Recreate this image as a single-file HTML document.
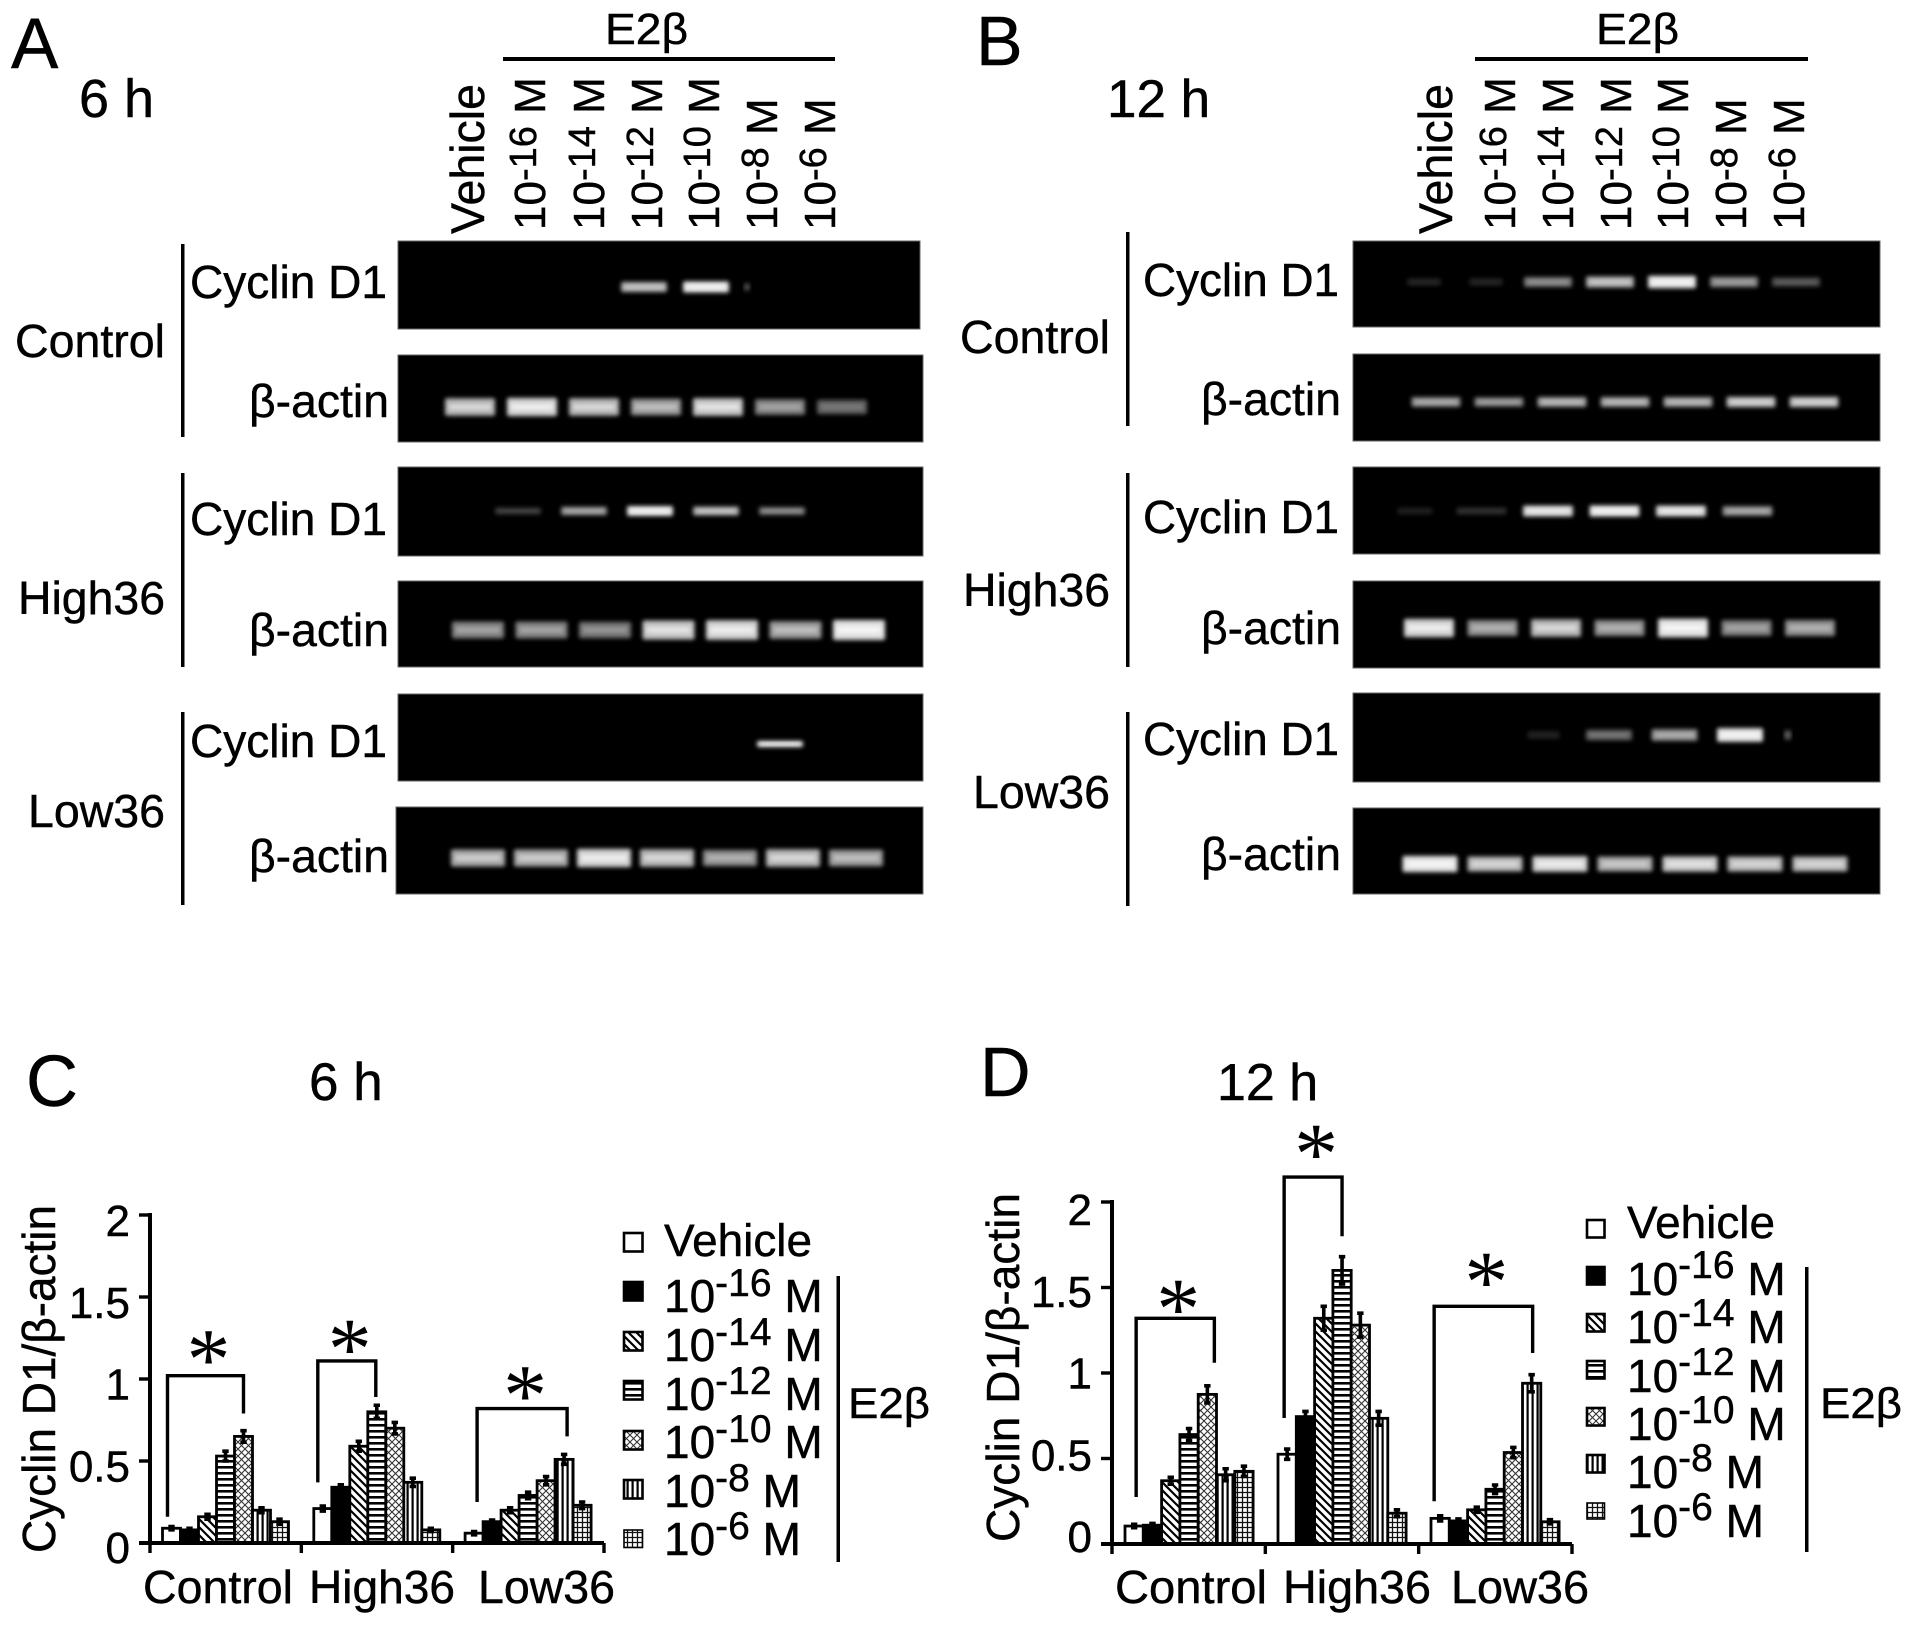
<!DOCTYPE html>
<html lang="en">
<head>
<meta charset="utf-8">
<title>Cyclin D1 expression after E2β treatment</title>
<style>
html,body{margin:0;padding:0;background:#fff}
svg{display:block}
text{font-family:"Liberation Sans","DejaVu Sans",sans-serif;fill:#000;stroke:#000;stroke-width:.45px}
.star{font-family:"Liberation Serif","DejaVu Serif",serif;stroke:none}
</style>
</head>
<body>
<svg id="figure" xmlns="http://www.w3.org/2000/svg" width="1913" height="1626" viewBox="0 0 1913 1626">
<defs>
<filter id="bandBlur" x="-20%" y="-80%" width="140%" height="260%"><feGaussianBlur stdDeviation="2"/></filter>
<pattern id="pat-diag" patternUnits="userSpaceOnUse" width="8" height="8"><rect width="8" height="8" fill="#fff"/><path d="M-2,-2L10,10M-2,6L2,10M6,-2L10,2" stroke="#000" stroke-width="2.2"/></pattern>
<pattern id="pat-horiz" patternUnits="userSpaceOnUse" width="6" height="6"><rect width="6" height="6" fill="#fff"/><rect y="2" width="6" height="2.6" fill="#000"/></pattern>
<pattern id="pat-vert" patternUnits="userSpaceOnUse" width="5" height="5"><rect width="5" height="5" fill="#fff"/><rect x="1.5" width="2.2" height="5" fill="#000"/></pattern>
<pattern id="pat-cross" patternUnits="userSpaceOnUse" width="7" height="7"><rect width="7" height="7" fill="#fff"/><path d="M-1,-1L8,8M-1,8L8,-1" stroke="#333" stroke-width="1.1"/></pattern>
<pattern id="pat-grid" patternUnits="userSpaceOnUse" width="5" height="5"><rect width="5" height="5" fill="#fff"/><path d="M2.5,0V5M0,2.5H5" stroke="#111" stroke-width="1.3"/></pattern>
</defs>

<!-- Panel A -->
<g>
<text x="11" y="68" font-size="71">A</text>
<text x="79" y="117" font-size="54">6 h</text>
<text x="605" y="44" font-size="44" textLength="83" lengthAdjust="spacingAndGlyphs">E2β</text>
<rect x="503" y="57" width="332" height="4"/>
<text transform="translate(484,234) rotate(-90)" font-size="47" textLength="150" lengthAdjust="spacingAndGlyphs">Vehicle</text>
<text transform="translate(545,230) rotate(-90)" font-size="44">10<tspan dy="-9" font-size="38">-16</tspan><tspan dy="9"> M</tspan></text>
<text transform="translate(604,230) rotate(-90)" font-size="44">10<tspan dy="-9" font-size="38">-14</tspan><tspan dy="9"> M</tspan></text>
<text transform="translate(662,230) rotate(-90)" font-size="44">10<tspan dy="-9" font-size="38">-12</tspan><tspan dy="9"> M</tspan></text>
<text transform="translate(719,230) rotate(-90)" font-size="44">10<tspan dy="-9" font-size="38">-10</tspan><tspan dy="9"> M</tspan></text>
<text transform="translate(777,230) rotate(-90)" font-size="44">10<tspan dy="-9" font-size="38">-8</tspan><tspan dy="9"> M</tspan></text>
<text transform="translate(835,230) rotate(-90)" font-size="44">10<tspan dy="-9" font-size="38">-6</tspan><tspan dy="9"> M</tspan></text>
<rect x="181" y="244" width="3.5" height="193"/>
<rect x="181" y="473" width="3.5" height="194"/>
<rect x="181" y="712" width="3.5" height="193"/>
<text x="15" y="357" font-size="46" textLength="150" lengthAdjust="spacingAndGlyphs">Control</text>
<text x="18" y="614" font-size="46" textLength="147" lengthAdjust="spacingAndGlyphs">High36</text>
<text x="28" y="827" font-size="46" textLength="137" lengthAdjust="spacingAndGlyphs">Low36</text>
<text x="190" y="298" font-size="46" textLength="197" lengthAdjust="spacingAndGlyphs">Cyclin D1</text>
<text x="249" y="417" font-size="46" textLength="140" lengthAdjust="spacingAndGlyphs">β-actin</text>
<text x="190" y="535" font-size="46" textLength="197" lengthAdjust="spacingAndGlyphs">Cyclin D1</text>
<text x="249" y="646" font-size="46" textLength="140" lengthAdjust="spacingAndGlyphs">β-actin</text>
<text x="190" y="757" font-size="46" textLength="197" lengthAdjust="spacingAndGlyphs">Cyclin D1</text>
<text x="249" y="872" font-size="46" textLength="140" lengthAdjust="spacingAndGlyphs">β-actin</text>
</g>

<!-- Panel B -->
<g>
<text x="976" y="65" font-size="70">B</text>
<text x="1107" y="117" font-size="53">12 h</text>
<text x="1596" y="44" font-size="44" textLength="83" lengthAdjust="spacingAndGlyphs">E2β</text>
<rect x="1475" y="57" width="333" height="4"/>
<text transform="translate(1452,234) rotate(-90)" font-size="47" textLength="150" lengthAdjust="spacingAndGlyphs">Vehicle</text>
<text transform="translate(1515,230) rotate(-90)" font-size="44">10<tspan dy="-9" font-size="38">-16</tspan><tspan dy="9"> M</tspan></text>
<text transform="translate(1573,230) rotate(-90)" font-size="44">10<tspan dy="-9" font-size="38">-14</tspan><tspan dy="9"> M</tspan></text>
<text transform="translate(1631,230) rotate(-90)" font-size="44">10<tspan dy="-9" font-size="38">-12</tspan><tspan dy="9"> M</tspan></text>
<text transform="translate(1688,230) rotate(-90)" font-size="44">10<tspan dy="-9" font-size="38">-10</tspan><tspan dy="9"> M</tspan></text>
<text transform="translate(1746,230) rotate(-90)" font-size="44">10<tspan dy="-9" font-size="38">-8</tspan><tspan dy="9"> M</tspan></text>
<text transform="translate(1804,230) rotate(-90)" font-size="44">10<tspan dy="-9" font-size="38">-6</tspan><tspan dy="9"> M</tspan></text>
<rect x="1126" y="232" width="3.5" height="194"/>
<rect x="1126" y="473" width="3.5" height="194"/>
<rect x="1126" y="712" width="3.5" height="194"/>
<text x="960" y="353" font-size="46" textLength="150" lengthAdjust="spacingAndGlyphs">Control</text>
<text x="963" y="606" font-size="46" textLength="147" lengthAdjust="spacingAndGlyphs">High36</text>
<text x="973" y="808" font-size="46" textLength="137" lengthAdjust="spacingAndGlyphs">Low36</text>
<text x="1143" y="296" font-size="46" textLength="196" lengthAdjust="spacingAndGlyphs">Cyclin D1</text>
<text x="1201" y="415" font-size="46" textLength="140" lengthAdjust="spacingAndGlyphs">β-actin</text>
<text x="1143" y="533" font-size="46" textLength="196" lengthAdjust="spacingAndGlyphs">Cyclin D1</text>
<text x="1201" y="644" font-size="46" textLength="140" lengthAdjust="spacingAndGlyphs">β-actin</text>
<text x="1143" y="755" font-size="46" textLength="196" lengthAdjust="spacingAndGlyphs">Cyclin D1</text>
<text x="1201" y="870" font-size="46" textLength="140" lengthAdjust="spacingAndGlyphs">β-actin</text>
</g>

<!-- Panel C headings and legend -->
<g>
<text x="26" y="1106" font-size="72">C</text>
<text x="309" y="1100" font-size="53">6 h</text>
<text transform="translate(55,1553) rotate(-90)" font-size="46" textLength="348" lengthAdjust="spacingAndGlyphs">Cyclin D1/β-actin</text>
<g>
<rect x="624" y="1233" width="18.5" height="18.5" fill="#fff" stroke="#000" stroke-width="2.6"/>
<rect x="624" y="1282" width="18.5" height="18.5" fill="#000" stroke="#000" stroke-width="2.6"/>
<rect x="624" y="1332" width="18.5" height="18.5" fill="url(#pat-diag)" stroke="#000" stroke-width="2.6"/>
<rect x="624" y="1381" width="18.5" height="18.5" fill="url(#pat-horiz)" stroke="#000" stroke-width="2.6"/>
<rect x="624" y="1431" width="18.5" height="18.5" fill="url(#pat-cross)" stroke="#000" stroke-width="2.6"/>
<rect x="624" y="1480" width="18.5" height="18.5" fill="url(#pat-vert)" stroke="#000" stroke-width="2.6"/>
<rect x="624" y="1530" width="18.5" height="17.5" fill="url(#pat-grid)" stroke="#000" stroke-width="1.6"/>
<text x="664" y="1256" font-size="45" textLength="148" lengthAdjust="spacingAndGlyphs">Vehicle</text>
<text x="664" y="1312" font-size="46">10<tspan dy="-16" font-size="39">-16</tspan><tspan dy="16"> M</tspan></text>
<text x="664" y="1361" font-size="46">10<tspan dy="-16" font-size="39">-14</tspan><tspan dy="16"> M</tspan></text>
<text x="664" y="1410" font-size="46">10<tspan dy="-16" font-size="39">-12</tspan><tspan dy="16"> M</tspan></text>
<text x="664" y="1458" font-size="46">10<tspan dy="-16" font-size="39">-10</tspan><tspan dy="16"> M</tspan></text>
<text x="664" y="1507" font-size="46">10<tspan dy="-16" font-size="39">-8</tspan><tspan dy="16"> M</tspan></text>
<text x="664" y="1555" font-size="46">10<tspan dy="-16" font-size="39">-6</tspan><tspan dy="16"> M</tspan></text>
<rect x="836.5" y="1276" width="3.5" height="286"/>
<text x="848" y="1418" font-size="43" textLength="82" lengthAdjust="spacingAndGlyphs">E2β</text>
</g>
</g>

<!-- Panel D headings and legend -->
<g>
<text x="980" y="1096" font-size="70">D</text>
<text x="1217" y="1100" font-size="52">12 h</text>
<text transform="translate(1019,1542) rotate(-90)" font-size="46" textLength="349" lengthAdjust="spacingAndGlyphs">Cyclin D1/β-actin</text>
<g>
<rect x="1587" y="1220" width="17.5" height="17.5" fill="#fff" stroke="#000" stroke-width="2.6"/>
<rect x="1587" y="1267" width="17.5" height="17.5" fill="#000" stroke="#000" stroke-width="2.6"/>
<rect x="1587" y="1314" width="17.5" height="17.5" fill="url(#pat-diag)" stroke="#000" stroke-width="2.6"/>
<rect x="1587" y="1361" width="17.5" height="17.5" fill="url(#pat-horiz)" stroke="#000" stroke-width="2.6"/>
<rect x="1587" y="1408" width="17.5" height="17.5" fill="url(#pat-cross)" stroke="#000" stroke-width="2.6"/>
<rect x="1587" y="1455" width="17.5" height="17.5" fill="url(#pat-vert)" stroke="#000" stroke-width="2.6"/>
<rect x="1587" y="1503" width="17.5" height="16" fill="url(#pat-grid)" stroke="#000" stroke-width="1.6"/>
<text x="1627" y="1238" font-size="45" textLength="148" lengthAdjust="spacingAndGlyphs">Vehicle</text>
<text x="1627" y="1295" font-size="46">10<tspan dy="-17" font-size="39">-16</tspan><tspan dy="17"> M</tspan></text>
<text x="1627" y="1343" font-size="46">10<tspan dy="-17" font-size="39">-14</tspan><tspan dy="17"> M</tspan></text>
<text x="1627" y="1392" font-size="46">10<tspan dy="-17" font-size="39">-12</tspan><tspan dy="17"> M</tspan></text>
<text x="1627" y="1440" font-size="46">10<tspan dy="-17" font-size="39">-10</tspan><tspan dy="17"> M</tspan></text>
<text x="1627" y="1488" font-size="46">10<tspan dy="-17" font-size="39">-8</tspan><tspan dy="17"> M</tspan></text>
<text x="1627" y="1537" font-size="46">10<tspan dy="-17" font-size="39">-6</tspan><tspan dy="17"> M</tspan></text>
<rect x="1805" y="1267" width="3.5" height="285"/>
<text x="1820" y="1418" font-size="43" textLength="82" lengthAdjust="spacingAndGlyphs">E2β</text>
</g>
</g>
</svg>

<script>
// ---- Shared chart categories ----
const groupNames = ["Control", "High36", "Low36"];
const doseNames = ["vehicle", "1e-16", "1e-14", "1e-12", "1e-10", "1e-8", "1e-6"];
const doseFills = ["#fff", "#000", "url(#pat-diag)", "url(#pat-horiz)", "url(#pat-cross)", "url(#pat-vert)", "url(#pat-grid)"];
const yTicks = [0, 0.5, 1, 1.5, 2];
const yTickLabels = ["0", "0.5", "1", "1.5", "2"];

// ---- Panel C (6 h) values ----
const sixHourControl = [0.09, 0.08, 0.16, 0.53, 0.65, 0.20, 0.13];
const sixHourHigh36 = [0.21, 0.34, 0.59, 0.80, 0.70, 0.37, 0.08];
const sixHourLow36 = [0.06, 0.13, 0.20, 0.29, 0.38, 0.51, 0.23];
const sixHourControlErr = [0.01, 0.01, 0.015, 0.03, 0.035, 0.015, 0.015];
const sixHourHigh36Err = [0.015, 0.015, 0.03, 0.04, 0.035, 0.025, 0.01];
const sixHourLow36Err = [0.01, 0.01, 0.015, 0.02, 0.025, 0.03, 0.02];

// ---- Panel D (12 h) values ----
const twelveHourControl = [0.105, 0.11, 0.37, 0.64, 0.875, 0.405, 0.425];
const twelveHourHigh36 = [0.525, 0.745, 1.32, 1.60, 1.28, 0.735, 0.18];
const twelveHourLow36 = [0.15, 0.135, 0.20, 0.32, 0.535, 0.94, 0.13];
const twelveHourControlErr = [0.01, 0.01, 0.02, 0.035, 0.05, 0.035, 0.03];
const twelveHourHigh36Err = [0.03, 0.03, 0.07, 0.08, 0.07, 0.04, 0.02];
const twelveHourLow36Err = [0.015, 0.012, 0.015, 0.025, 0.03, 0.05, 0.012];

// ---- Significance brackets, in y-axis units ----
const sixHourBracketTop = [1.02, 1.11, 0.82];
const sixHourBracketLeftEnd = [0.16, 0.37, 0.25];
const sixHourBracketRightEnd = [0.79, 0.89, 0.65];
const sixHourBracketDose = [4, 3, 5];
const twelveHourBracketTop = [1.32, 2.146, 1.39];
const twelveHourBracketLeftEnd = [0.275, 0.737, 0.25];
const twelveHourBracketRightEnd = [1.06, 1.80, 1.117];
const twelveHourBracketDose = [4, 3, 5];

// ---- Gel band intensities (0-1) per lane ----
const gelA1 = [0, 0, 0, 0.8, 1, 0, 0];
const gelA2 = [0.85, 0.95, 0.85, 0.75, 0.9, 0.65, 0.5];
const gelA3 = [0, 0.3, 0.7, 1, 0.8, 0.6, 0];
const gelA4 = [0.65, 0.65, 0.6, 0.9, 0.95, 0.75, 1];
const gelA5 = [0, 0, 0, 0, 0, 1, 0];
const gelA6 = [0.8, 0.8, 0.95, 0.85, 0.7, 0.85, 0.75];
const gelB1 = [0.12, 0.12, 0.6, 0.8, 1, 0.65, 0.4];
const gelB2 = [0.7, 0.65, 0.75, 0.75, 0.75, 0.85, 0.85];
const gelB3 = [0.1, 0.2, 0.95, 1, 0.95, 0.7, 0];
const gelB4 = [0.95, 0.7, 0.85, 0.7, 1, 0.65, 0.7];
const gelB5 = [0, 0.1, 0.5, 0.7, 1, 0, 0];
const gelB6 = [1, 0.85, 0.95, 0.8, 0.9, 0.85, 0.85];

const SVG_NS = "http://www.w3.org/2000/svg";
const root = document.getElementById("figure");

function make(parent, tag, attrs) {
  const el = document.createElementNS(SVG_NS, tag);
  for (const k in attrs) el.setAttribute(k, attrs[k]);
  parent.appendChild(el);
  return el;
}

function drawBlot(name, box, lane, values, speck) {
  const g = make(root, "g", {});
  
  
  const bg = make(g, "rect", {x: box.x, y: box.y, width: box.w, height: box.h, fill: "#000", stroke: "#666", "stroke-width": 1});
  
  
  function band(cx, v, w) {
    const h = lane.h * (0.65 + 0.6 * v);
    const lvl = Math.round(60 + 175 * v);
    const outer = make(g, "rect", {x: cx - w / 2, y: lane.cy - h / 2, width: w, height: h, rx: 2, fill: "rgb(" + lvl + "," + lvl + "," + lvl + ")", opacity: Math.min(1, 0.35 + v * 0.6), filter: "url(#bandBlur)"});
    
    
    const inner = make(g, "rect", {x: cx - w * 0.42, y: lane.cy - h * 0.16, width: w * 0.84, height: h * 0.32, fill: "#fff", opacity: v * v * 0.75, filter: "url(#bandBlur)"});
    
    
  }
  values.forEach(function (v, i) {
    if (v > 0) band(lane.x0 + lane.dx * i, v, lane.w * (v < 0.15 ? 0.7 : 1));
  });
  if (speck) band(lane.x0 + lane.dx * speck.lane, speck.value, speck.width);
}

function drawChart(prefix, L, series, errors, bracketTop, bracketLeft, bracketRight, bracketDose) {
  const g = make(root, "g", {});
  
  
  const yScale = function (v) { return L.y0 - v * L.unit; };
  const xScale = function (gi, si) { return L.barX0 + gi * L.groupStep + si * L.barW; };

  series.forEach(function (vals, gi) {
    vals.forEach(function (v, si) {
      const bar = make(g, "rect", {x: xScale(gi, si), y: yScale(v), width: L.barW, height: Math.max(0, L.y0 - yScale(v)), fill: doseFills[si], stroke: "#000", "stroke-width": 2.8});
      
      
    });
  });
  series.forEach(function (vals, gi) {
    vals.forEach(function (v, si) {
      const cx = xScale(gi, si) + L.barW / 2;
      const e = errors[gi][si];
      const whisker = make(g, "path", {d: "M" + cx + "," + yScale(v + e) + "V" + yScale(v - e) + "M" + (cx - 3.2) + "," + yScale(v + e) + "H" + (cx + 3.2) + "M" + (cx - 3.2) + "," + yScale(v - e) + "H" + (cx + 3.2), stroke: "#000", "stroke-width": 3.6, fill: "none"});
      
      
    });
  });

  const yAxis = make(g, "rect", {x: L.axisX - 2, y: yScale(2) - 2, width: 4, height: L.y0 - yScale(2) + 4});
  
  
  const xAxis = make(g, "rect", {x: L.axisX - 11, y: L.y0 - 2, width: L.axisEnd - L.axisX + 11, height: 4});
  
  

  yTicks.forEach(function (t, i) {
    const tick = make(g, "rect", {x: L.axisX - 11, y: yScale(t) - 1.7, width: 11, height: 3.4});
    
    
    const label = make(g, "text", {x: L.labelX, y: L.labelY0 - t * L.labelUnit, "font-size": 44, "text-anchor": "end"});
    label.textContent = yTickLabels[i];
    
    
  });
  for (let i = 0; i <= groupNames.length; i++) {
    const tx = L.axisX + i * (L.axisEnd - L.axisX) / groupNames.length;
    const tick = make(g, "rect", {x: tx - 1.7, y: L.y0, width: 3.4, height: 10});
    
    
  }
  groupNames.forEach(function (name, gi) {
    const label = make(g, "text", {x: L.catX[gi], y: L.catY, "font-size": 46, textLength: L.catW[gi], lengthAdjust: "spacingAndGlyphs"});
    label.textContent = name;
    
    
  });

  bracketTop.forEach(function (top, gi) {
    const left = xScale(gi, 0) + L.barW / 2 + L.bracketShift[gi];
    const right = xScale(gi, bracketDose[gi]) + L.barW / 2 + L.bracketRightShift[gi];
    const bracket = make(g, "path", {d: "M" + left + "," + yScale(bracketLeft[gi]) + "V" + yScale(top) + "H" + right + "V" + yScale(bracketRight[gi]), fill: "none", stroke: "#000", "stroke-width": 3.4});
    
    
    const starSize = 88;
    const star = make(g, "text", {x: (left + right) / 2 + 3, y: yScale(top) - L.starGap[gi] + starSize * 0.47, "font-size": starSize, "text-anchor": "middle", "class": "star"});
    star.textContent = "*";
    
    
  });
}

// Gel blots
drawBlot("a1", {x: 398, y: 241, w: 522, h: 88}, {x0: 458, dx: 62, cy: 287, h: 9, w: 46}, gelA1, {lane: 4.66, value: 0.35, width: 6});
drawBlot("a2", {x: 398, y: 355, w: 525, h: 87}, {x0: 470, dx: 62, cy: 407, h: 15, w: 50}, gelA2);
drawBlot("a3", {x: 398, y: 467, w: 525, h: 89}, {x0: 452, dx: 66, cy: 511, h: 8, w: 46}, gelA3);
drawBlot("a4", {x: 398, y: 581, w: 525, h: 86}, {x0: 478, dx: 63.5, cy: 630, h: 16, w: 52}, gelA4);
drawBlot("a5", {x: 398, y: 694, w: 525, h: 87}, {x0: 465, dx: 63, cy: 744, h: 5, w: 46}, gelA5);
drawBlot("a6", {x: 396, y: 807, w: 527, h: 87}, {x0: 478, dx: 63, cy: 858, h: 15, w: 54}, gelA6);
drawBlot("b1", {x: 1353, y: 241, w: 527, h: 86}, {x0: 1424, dx: 62, cy: 282, h: 10, w: 48}, gelB1);
drawBlot("b2", {x: 1353, y: 354, w: 527, h: 87}, {x0: 1436, dx: 63, cy: 402, h: 9, w: 49}, gelB2);
drawBlot("b3", {x: 1353, y: 467, w: 527, h: 87}, {x0: 1415, dx: 66.5, cy: 511, h: 9, w: 50}, gelB3);
drawBlot("b4", {x: 1353, y: 581, w: 527, h: 87}, {x0: 1429, dx: 63.5, cy: 628, h: 15, w: 50}, gelB4);
drawBlot("b5", {x: 1353, y: 693, w: 527, h: 89}, {x0: 1478, dx: 65.5, cy: 735, h: 11, w: 46}, gelB5, {lane: 4.73, value: 0.4, width: 7});
drawBlot("b6", {x: 1353, y: 808, w: 527, h: 86}, {x0: 1430, dx: 65, cy: 864, h: 13, w: 55}, gelB6);

// Bar charts
drawChart("six-hour", {
  y0: 1543, unit: 164, axisX: 150, axisEnd: 604, barX0: 162.5, groupStep: 151.3, barW: 18,
  labelX: 130, labelY0: 1563, labelUnit: 163.5,
  catX: [143, 309, 478], catY: 1603, catW: [150, 146, 137],
  bracketShift: [-4, -5, 3], bracketRightShift: [0, -1, 3], starGap: [28, 24, 25]
}, [sixHourControl, sixHourHigh36, sixHourLow36], [sixHourControlErr, sixHourHigh36Err, sixHourLow36Err],
  sixHourBracketTop, sixHourBracketLeftEnd, sixHourBracketRightEnd, sixHourBracketDose);

drawChart("twelve-hour", {
  y0: 1544, unit: 171, axisX: 1112, axisEnd: 1572, barX0: 1125, groupStep: 153, barW: 18.3,
  labelX: 1092, labelY0: 1552, labelUnit: 163.5,
  catX: [1115, 1283, 1451], catY: 1603, catW: [152, 148, 138],
  bracketShift: [2, -3, -6], bracketRightShift: [7, 0, 1], starGap: [21, 35, 36]
}, [twelveHourControl, twelveHourHigh36, twelveHourLow36], [twelveHourControlErr, twelveHourHigh36Err, twelveHourLow36Err],
  twelveHourBracketTop, twelveHourBracketLeftEnd, twelveHourBracketRightEnd, twelveHourBracketDose);
</script>
</body>
</html>
